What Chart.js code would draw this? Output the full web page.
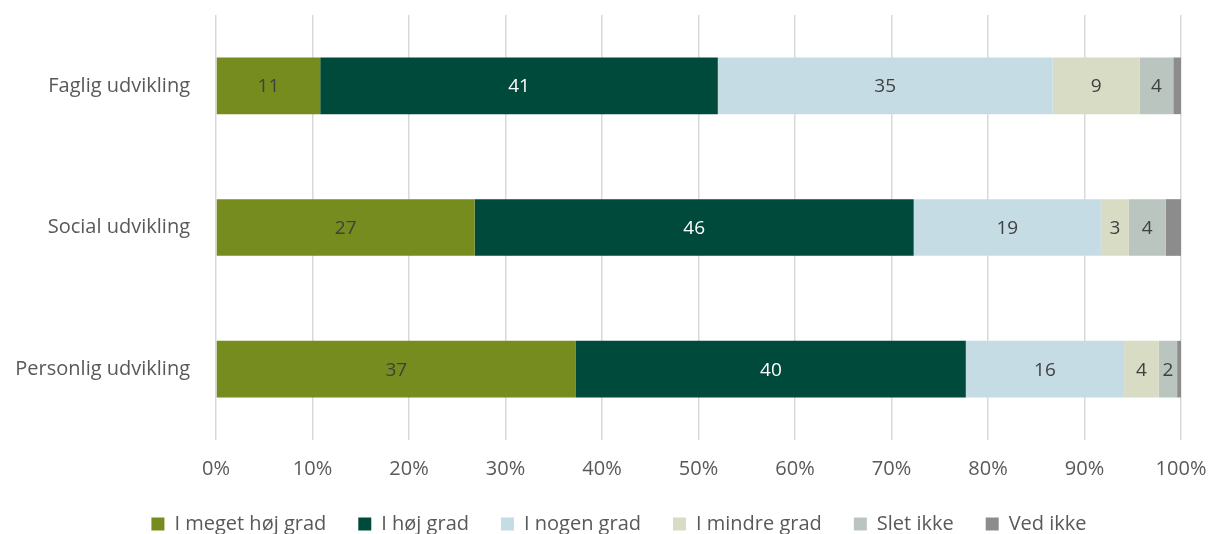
<!DOCTYPE html>
<html>
<head>
<meta charset="utf-8">
<script src="https://cdn.jsdelivr.net/npm/chart.js@4"></script>
<style>
  html, body { margin: 0; padding: 0; background: #fff; }
  #wrap { width: 1210px; height: 534px; }
</style>
</head>
<body>
<div id="wrap"><canvas id="c" width="1210" height="534"></canvas></div>
<script>
// kategorier og svarfordeling (procent)
var categories = ['Faglig udvikling', 'Social udvikling', 'Personlig udvikling'];
var seriesNames = ['I meget høj grad', 'I høj grad', 'I nogen grad', 'I mindre grad', 'Slet ikke', 'Ved ikke'];
var megetHoej = [10.8, 26.8, 37.3];
var hoej      = [41.2, 45.5, 40.4];
var nogen     = [34.7, 19.4, 16.4];
var mindre    = [9.0, 2.9, 3.6];
var sletIkke  = [3.5, 3.8, 1.9];
var vedIkke   = [0.8, 1.6, 0.4];
var xTicks    = [0, 10, 20, 30, 40, 50, 60, 70, 80, 90, 100];

var colors    = ['#768C1E', '#004A3B', '#C6DCE4', '#D9DCC5', '#BAC5C0', '#8C8C8C'];
var textCols  = ['#404040', '#FFFFFF', '#404040', '#404040', '#404040', null];
var FONT = '"Open Sans", "Liberation Sans", sans-serif';

var allSeries = [megetHoej, hoej, nogen, mindre, sletIkke, vedIkke];
var datasets = allSeries.map(function(vals, i){
  return {
    label: seriesNames[i],
    data: vals,
    backgroundColor: colors[i],
    borderWidth: 0,
    barPercentage: 0.4,
    categoryPercentage: 1.0
  };
});

// tal midt i hvert felt (ikke "Ved ikke")
var barLabels = {
  id: 'barLabels',
  afterDatasetsDraw: function(chart){
    var ctx = chart.ctx;
    ctx.save();
    ctx.font = '19px ' + FONT;
    ctx.textAlign = 'center';
    ctx.textBaseline = 'middle';
    chart.data.datasets.forEach(function(ds, i){
      if(!textCols[i]) return;
      var meta = chart.getDatasetMeta(i);
      meta.data.forEach(function(bar, j){
        var v = ds.data[j];
        var x = (bar.x + bar.base) / 2;
        ctx.fillStyle = textCols[i];
        ctx.fillText(Math.round(v), x, bar.y + 1);
      });
    });
    ctx.restore();
  }
};

// fast hoejde til forklaringen, og lidt forskudt mod hoejre
var legendBox = {
  id: 'legendBox',
  beforeLayout: function(chart){
    var lg = chart.legend;
    if(!lg || lg._fixedH) return;
    var fit = lg.fit;
    lg.fit = function(){ fit.call(this); this.height = 52; };
    lg._fixedH = true;
  },
  afterLayout: function(chart){
    var lg = chart.legend;
    if(!lg) return;
    lg.left += 14;
    lg.right += 14;
  }
};

new Chart(document.getElementById('c'), {
  type: 'bar',
  data: { labels: categories, datasets: datasets },
  plugins: [barLabels, legendBox],
  options: {
    indexAxis: 'y',
    responsive: false,
    animation: false,
    layout: { padding: { top: 15, right: 0, left: 0, bottom: 0 } },
    scales: {
      x: {
        stacked: true,
        min: 0,
        max: 100,
        afterBuildTicks: function(axis){
          axis.ticks = xTicks.map(function(v){ return { value: v }; });
        },
        afterFit: function(s){
          s.height = 42;
          s.paddingLeft = 0;
          s.paddingRight = 29;
        },
        grid: { color: '#D9D9D9', lineWidth: 1.5, drawTicks: false },
        border: { display: false },
        ticks: {
          color: '#595959',
          font: { family: FONT, size: 20 },
          padding: 17,
          callback: function(v){ return v + '%'; }
        }
      },
      y: {
        stacked: true,
        afterFit: function(s){
          s.width = 216;
          s.paddingTop = 0;
          s.paddingBottom = 0;
        },
        grid: { display: false },
        border: { display: false },
        ticks: {
          color: '#595959',
          font: { family: FONT, size: 20 },
          padding: 18
        }
      }
    },
    plugins: {
      tooltip: { enabled: false },
      legend: {
        position: 'bottom',
        labels: {
          color: '#595959',
          font: { family: FONT, size: 20 },
          boxWidth: 13,
          boxHeight: 13,
          padding: 32
        }
      }
    }
  }
});
</script>
</body>
</html>
